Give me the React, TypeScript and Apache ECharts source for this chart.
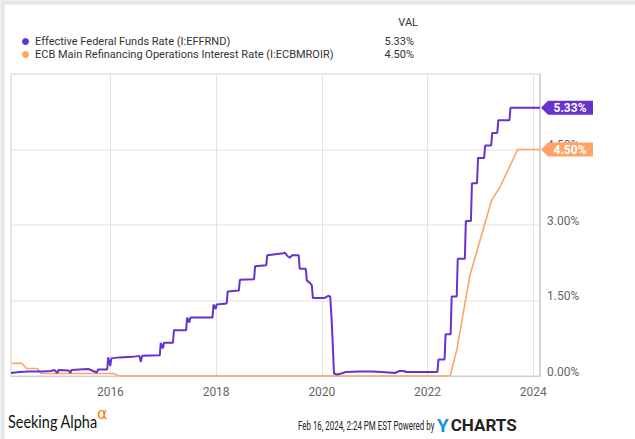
import React, { useEffect, useRef } from "react";
import * as echarts from "echarts";

const fedName = "Effective Federal Funds Rate (I:EFFRND)";
const ecbName = "ECB Main Refinancing Operations Interest Rate (I:ECBMROIR)";

const fedDates = [
  "2014-02-14", "2014-04-15", "2014-06-15", "2014-09-15", "2014-11-15", "2014-12-10", "2014-12-31",
  "2015-01-08", "2015-03-20", "2015-03-31", "2015-04-08", "2015-06-01", "2015-08-01", "2015-09-30",
  "2015-10-08", "2015-12-10", "2015-12-17", "2015-12-31", "2016-01-08", "2016-03-01", "2016-06-01",
  "2016-07-20", "2016-07-30", "2016-08-08", "2016-12-08", "2016-12-15", "2016-12-30", "2017-01-06",
  "2017-03-09", "2017-03-16", "2017-06-08", "2017-06-15", "2017-06-30", "2017-07-07", "2017-12-07",
  "2017-12-14", "2017-12-29", "2018-01-05", "2018-03-15", "2018-03-22", "2018-06-07", "2018-06-14",
  "2018-09-20", "2018-09-27", "2018-12-13", "2018-12-20", "2019-04-10", "2019-04-20", "2019-05-10",
  "2019-05-25", "2019-06-10", "2019-07-25", "2019-08-01", "2019-09-12", "2019-09-19", "2019-10-10",
  "2019-10-24", "2019-10-31", "2020-01-20", "2020-02-15", "2020-02-28", "2020-03-10", "2020-03-25",
  "2020-04-15", "2020-05-15", "2020-06-15", "2020-09-15", "2020-12-15", "2021-02-15", "2021-04-10",
  "2021-05-20", "2021-06-20", "2021-07-20", "2021-08-05", "2022-03-10", "2022-03-17", "2022-04-28",
  "2022-05-05", "2022-06-09", "2022-06-16", "2022-07-21", "2022-07-28", "2022-09-15", "2022-09-22",
  "2022-10-27", "2022-11-03", "2022-12-08", "2022-12-15", "2023-01-26", "2023-02-02", "2023-03-16",
  "2023-03-23", "2023-04-27", "2023-05-04", "2023-07-20", "2023-07-27", "2024-02-16",
];
const fedValues = [
  0.06, 0.08, 0.09, 0.09, 0.10, 0.12, 0.06,
  0.12, 0.11, 0.06, 0.12, 0.13, 0.14, 0.07,
  0.13, 0.13, 0.37, 0.20, 0.35, 0.37, 0.38,
  0.40, 0.28, 0.40, 0.41, 0.66, 0.55, 0.66,
  0.66, 0.91, 0.91, 1.16, 1.06, 1.16, 1.16,
  1.42, 1.33, 1.42, 1.44, 1.68, 1.70, 1.91,
  1.92, 2.18, 2.20, 2.40, 2.44, 2.45, 2.38,
  2.35, 2.40, 2.40, 2.13, 2.13, 1.90, 1.85,
  1.80, 1.55, 1.55, 1.59, 1.58, 1.05, 0.05,
  0.03, 0.05, 0.08, 0.09, 0.09, 0.08, 0.07,
  0.06, 0.10, 0.10, 0.08, 0.08, 0.33, 0.33,
  0.83, 0.83, 1.58, 1.58, 2.33, 2.33, 3.08,
  3.08, 3.83, 3.83, 4.33, 4.33, 4.58, 4.58,
  4.83, 4.83, 5.08, 5.08, 5.33, 5.33,
];

const ecbDates = [
  "2014-02-20", "2014-05-01", "2014-06-01", "2014-08-15", "2014-09-10", "2016-01-20", "2016-03-01",
  "2022-06-05", "2022-07-20", "2022-10-20", "2023-03-20", "2023-05-15", "2023-09-15", "2024-02-16",
];
const ecbValues = [0.25, 0.25, 0.15, 0.15, 0.05, 0.05, 0.0, 0.0, 0.5, 2.0, 3.5, 3.75, 4.5, 4.5];

const xLabelYears = [2016, 2018, 2020, 2022, 2024];
const xStart = "2014-02-14";
const xEnd = "2024-02-16";
const yMax = 6;
const yStep = 1.5;

const fedColor = "#6633cc";
const ecbColor = "#ffa366";

function toYear(d: string): number {
  const [y, m, day] = d.split("-").map(Number);
  const start = Date.UTC(y, 0, 1);
  const end = Date.UTC(y + 1, 0, 1);
  return y + (Date.UTC(y, m - 1, day) - start) / (end - start);
}

const tagPath = "path://M0,7 L7,0 L52,0 L52,14 L7,14 Z";

export default function App() {
  const ref = useRef<HTMLDivElement>(null);
  useEffect(() => {
    if (!ref.current) return;
    const chart = echarts.init(ref.current, undefined, { renderer: "svg" });
    const fedData = fedDates.map((d, i) => [toYear(d), fedValues[i]]);
    const ecbData = ecbDates.map((d, i) => [toYear(d), ecbValues[i]]);
    const lastFed = fedData[fedData.length - 1];
    const lastEcb = ecbData[ecbData.length - 1];
    const lastVals: Record<string, string> = {
      [fedName]: lastFed[1].toFixed(2) + "%",
      [ecbName]: lastEcb[1].toFixed(2) + "%",
    };
    const badge = (pt: number[], color: string) => ({
      symbol: tagPath,
      symbolSize: [52, 14],
      symbolOffset: [27, 0],
      silent: true,
      data: [{ coord: pt, value: pt[1] }],
      itemStyle: { color },
      label: {
        show: true,
        position: "inside",
        offset: [3, 0],
        formatter: (p: any) => Number(p.value).toFixed(2) + "%",
        color: "#fff",
        fontWeight: "bold",
        fontSize: 12,
        fontFamily: "Roboto",
      },
    });
    chart.setOption({
      animation: false,
      backgroundColor: "#fff",
      textStyle: { fontFamily: "Roboto" },
      grid: { left: 11, top: 74, right: 95, bottom: 63, show: true, borderColor: "#dedede", borderWidth: 1.5 },
      legend: {
        orient: "vertical",
        left: 17,
        top: 31,
        icon: "circle",
        itemWidth: 7,
        itemHeight: 7,
        itemGap: 2,
        selectedMode: false,
        data: [fedName, ecbName],
        formatter: (name: string) => `{n|${name}}{v|${lastVals[name]}}`,
        textStyle: {
          rich: {
            n: { width: 346, fontSize: 11, color: "#333", lineHeight: 14, padding: [0, 0, 0, 1], fontFamily: "Roboto" },
            v: { width: 33, align: "right", fontSize: 11, color: "#333", lineHeight: 14, fontFamily: "Roboto" },
          },
        },
      },
      xAxis: {
        type: "value",
        min: toYear(xStart),
        max: toYear(xEnd),
        axisLine: { show: true, lineStyle: { color: "#cfcfcf" } },
        axisTick: { show: false, customValues: xLabelYears },
        axisLabel: {
          customValues: xLabelYears,
          formatter: (v: number) => String(Math.round(v)),
          color: "#666",
          fontSize: 12,
          margin: 10,
        },
        splitLine: { show: true, lineStyle: { color: "#e3e3e3", width: 1 } },
      },
      yAxis: {
        type: "value",
        position: "right",
        min: 0,
        max: yMax,
        interval: yStep,
        axisLine: { show: true, lineStyle: { color: "#cfcfcf", width: 1.5 } },
        axisTick: { show: false },
        axisLabel: {
          formatter: (v: number) => (v >= yMax ? "" : v.toFixed(2) + "%"),
          color: "#666",
          fontSize: 12,
          margin: 7,
          verticalAlign: "bottom",
          lineHeight: 9,
        },
        splitLine: { show: true, lineStyle: { color: "#ebebeb", width: 1.5 } },
      },
      series: [
        {
          name: ecbName,
          type: "line",
          data: ecbData,
          showSymbol: false,
          lineStyle: { color: ecbColor, width: 1.6 },
          itemStyle: { color: ecbColor },
          markPoint: badge(lastEcb, ecbColor),
          z: 2,
        },
        {
          name: fedName,
          type: "line",
          data: fedData,
          showSymbol: false,
          lineStyle: { color: fedColor, width: 2 },
          itemStyle: { color: fedColor },
          markPoint: badge(lastFed, fedColor),
          z: 3,
        },
      ],
      graphic: [
        { type: "rect", left: 0, top: 0, shape: { width: 635, height: 439 }, style: { fill: "none", stroke: "#e6e6e6", lineWidth: 4 }, silent: true },
        { type: "text", x: 418, y: 22, style: { text: "VAL", textAlign: "right", textVerticalAlign: "middle", fontSize: 11, fill: "#333", fontFamily: "Roboto" } },
        { type: "text", x: 8, y: 429, scaleX: 0.85, style: { text: "Seeking Alpha", textVerticalAlign: "bottom", fontSize: 17, fill: "#111", fontFamily: "Lato" } },
        { type: "text", x: 97, y: 413, style: { text: "α", textVerticalAlign: "middle", fontSize: 16, fill: "#ff7a00", fontFamily: "DejaVu Sans" } },
        { type: "text", x: 298, y: 426, scaleX: 0.66, style: { text: "Feb 16, 2024, 2:24 PM EST Powered by", textVerticalAlign: "middle", fontSize: 12, fill: "#222", fontFamily: "Roboto" } },
        {
          type: "text", x: 437, y: 425,
          style: {
            text: "{y|Y}{c|CHARTS}",
            textVerticalAlign: "middle",
            rich: {
              y: { fontSize: 19, fontWeight: "bold", fill: "#1a8fe3", color: "#1a8fe3", fontFamily: "Roboto" },
              c: { fontSize: 17, fontWeight: "bold", fill: "#222", color: "#222", fontFamily: "Roboto", padding: [0, 0, 0, 2] },
            },
          },
        },
      ],
    });
    return () => chart.dispose();
  }, []);
  return <div ref={ref} style={{ position: "fixed", left: 0, top: 0, width: 635, height: 439 }} />;
}
